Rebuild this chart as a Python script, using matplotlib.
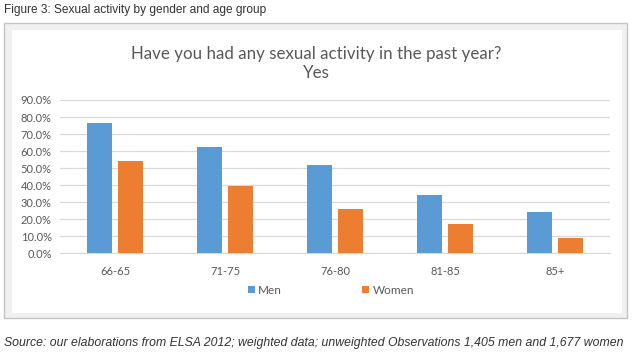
import numpy as np
import matplotlib
matplotlib.use('Agg')
import matplotlib.pyplot as plt
from matplotlib.patches import Rectangle

# 데이터
age_groups = ['66-65', '71-75', '76-80', '81-85', '85+']
men = [76.5, 62.4, 51.9, 34.5, 24.5]
women = [54.3, 39.8, 25.9, 17.4, 9.0]
y_ticks = [0, 10, 20, 30, 40, 50, 60, 70, 80, 90]

W, H = 634, 353
fig = plt.figure(figsize=(W / 100, H / 100), dpi=100)
fig.patch.set_facecolor('white')

# 바깥 회색 테두리 + 안쪽 흰 상자
def box(x0, y0, x1, y1, **kw):
    fig.patches.append(Rectangle((x0 / W, 1 - y1 / H), (x1 - x0) / W, (y1 - y0) / H,
                                 transform=fig.transFigure, zorder=0, **kw))

box(3.5, 22.5, 627, 318, facecolor='#f0f0f0', edgecolor='#c4c4c4', linewidth=1)
box(12, 30, 622, 313, facecolor='white', edgecolor='none')

fig.text(4 / W, 1 - 10 / H, 'Figure 3: Sexual activity by gender and age group',
         family='Liberation Sans', fontsize=8.6, color='#333333', va='center', ha='left')
fig.text(4 / W, 1 - 343 / H,
         'Source: our elaborations from ELSA 2012; weighted data; unweighted Observations 1,405 men and 1,677 women',
         family='Liberation Sans', style='italic', fontsize=8.8, color='#333333', va='center', ha='left')

fig.text(316 / W, 1 - 54 / H, 'Have you had any sexual activity in the past year?',
         family='Lato', fontsize=12.2, color='#595959', ha='center', va='center')
fig.text(316 / W, 1 - 73.5 / H, 'Yes',
         family='Lato', fontsize=12.2, color='#595959', ha='center', va='center')

ax = fig.add_axes([60 / W, 1 - 253.3 / H, 550 / W, 153.3 / H])
ax.set_zorder(2)
ax.patch.set_alpha(0)
x = np.arange(len(age_groups))
bw = 0.225
ax.bar(x - 0.14, men, bw, color='#5b9bd5', label='Men', zorder=3)
ax.bar(x + 0.14, women, bw, color='#ed7d31', label='Women', zorder=3)

ax.set_xlim(-0.5, len(age_groups) - 0.5)
ax.set_ylim(0, 90)
ax.set_yticks(y_ticks)
ax.set_yticklabels([f'{v:.1f}%' for v in y_ticks])
ax.set_xticks(x)
ax.set_xticklabels(age_groups)
ax.grid(axis='y', color='#d9d9d9', linewidth=0.9, zorder=0)
for s in ['top', 'right', 'left']:
    ax.spines[s].set_visible(False)
ax.spines['bottom'].set_color('#d9d9d9')
ax.tick_params(axis='both', length=0, colors='#595959', labelsize=8)
ax.tick_params(axis='y', pad=6)
ax.tick_params(axis='x', pad=9)
for t in ax.get_xticklabels() + ax.get_yticklabels():
    t.set_family('Lato')

leg = fig.legend(loc='center', bbox_to_anchor=(331 / W, 1 - 290 / H), ncol=2,
                 frameon=False, handlelength=0.6, handleheight=0.6, handletextpad=0.3,
                 columnspacing=6.8, prop={'family': 'Lato', 'size': 8.5})
for t in leg.get_texts():
    t.set_color('#595959')

fig.savefig('out.png', dpi=100)
